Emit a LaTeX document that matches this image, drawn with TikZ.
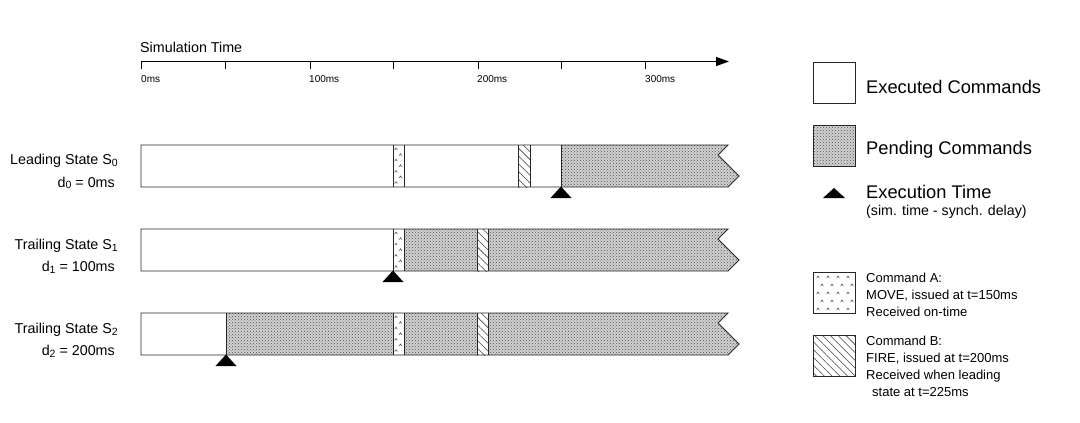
\documentclass[tikz,border=0pt]{standalone}
\usepackage{fontspec}
\setmainfont{Liberation Sans}
\usetikzlibrary{patterns,patterns.meta,arrows.meta}
\newcommand\sbs[1]{\raisebox{-0.2ex}{\fontsize{10.5}{10}\selectfont #1}}
\begin{document}
\begin{tikzpicture}[x=1pt,y=-1pt,
  barline/.style={draw=black!85, line width=0.9pt},
  pend/.style={fill=gray!35, postaction={pattern=crosshatch dots, pattern color=black!70}},
  hatchB/.style={fill=white, postaction={pattern={Lines[angle=-45,distance=5.5pt,line width=0.55pt]}, pattern color=black!75}},
  caret/.pic={\draw[line width=0.5pt, black!75] (-1.3,1) -- (0,-1) -- (1.3,1);},
  exec/.style={fill=black},
  lbl/.style={font=\fontsize{14.3}{16}\selectfont, anchor=east, inner sep=0pt},
  axl/.style={font=\fontsize{10}{11}\selectfont, anchor=west, inner sep=0pt},
  leg/.style={font=\fontsize{18.3}{20}\selectfont, anchor=west, inner sep=0pt},
  legs/.style={font=\fontsize{13}{17}\selectfont, anchor=west, inner sep=0pt, align=left},
]
\useasboundingbox (0,0) rectangle (1080,423);

% ---- axis ----
\coordinate (ax0) at (141,61.5);
\coordinate (ax1) at (729,61.5);
\draw[line width=1.3pt, -{Triangle[length=13pt,width=9pt]}] (ax0) -- (ax1);
\foreach \x in {141,225.5,310,393.5,478,561,645}
  \draw[line width=1pt] (\x,61.5) -- (\x,69);
\node[font=\fontsize{14.3}{16}\selectfont, anchor=west, inner sep=0pt] (simt) at (140,47) {Simulation Time};
\node[axl] (t0) at (141,79.5) {0ms};
\node[axl] (t100) at (309,79.5) {100ms};
\node[axl] (t200) at (477,79.5) {200ms};
\node[axl] (t300) at (645,79.5) {300ms};

% ---- row labels ----
\node[lbl] (l0) at (118,161) {Leading State S\sbs{0}};
\node[lbl] (d0) at (115,183) {d\sbs{0} = 0ms};
\node[lbl] (l1) at (118,246) {Trailing State S\sbs{1}};
\node[lbl] (d1) at (115,267.5) {d\sbs{1} = 100ms};
\node[lbl] (l2) at (118,330) {Trailing State S\sbs{2}};
\node[lbl] (d2) at (115,351.5) {d\sbs{2} = 200ms};

% ---- Row 0 ----
\fill[white] (141,145) -- (728,145) -- (718,155) -- (739,176) -- (728,187) -- (141,187) -- cycle;
\path[pend] (561,145) -- (728,145) -- (718,155) -- (739,176) -- (728,187) -- (561,187) -- cycle;
\path[hatchB] (518,145) rectangle (530,187);
\foreach \i in {0,...,6}{
  \pgfmathsetmacro\cx{mod(\i,2)==0 ? 396 : 400.5}
  \pic at (\cx,149+\i*5.6) {caret};
}
\foreach \x in {393,404,518,530,561} \draw[barline] (\x,145) -- (\x,187);
\draw[barline] (141,145) -- (728,145) -- (718,155) -- (739,176) -- (728,187) -- (141,187) -- cycle;
\fill[exec] (561,186.5) -- (550.5,198) -- (571.5,198) -- cycle;

% ---- Row 1 ----
\fill[white] (141,229) -- (728,229) -- (718,239) -- (739,260) -- (728,271) -- (141,271) -- cycle;
\path[pend] (404,229) -- (728,229) -- (718,239) -- (739,260) -- (728,271) -- (404,271) -- cycle;
\path[hatchB] (477,229) rectangle (488,271);
\foreach \i in {0,...,6}{
  \pgfmathsetmacro\cx{mod(\i,2)==0 ? 396 : 400.5}
  \pic at (\cx,233+\i*5.6) {caret};
}
\foreach \x in {393,404,477,488} \draw[barline] (\x,229) -- (\x,271);
\draw[barline] (141,229) -- (728,229) -- (718,239) -- (739,260) -- (728,271) -- (141,271) -- cycle;
\fill[exec] (393,270.5) -- (382.5,282) -- (403.5,282) -- cycle;

% ---- Row 2 ----
\fill[white] (141,313) -- (728,313) -- (718,323) -- (739,344) -- (728,355) -- (141,355) -- cycle;
\path[pend] (226,313) -- (728,313) -- (718,323) -- (739,344) -- (728,355) -- (226,355) -- cycle;
\fill[white] (393,313) rectangle (404,355);
\path[hatchB] (477,313) rectangle (488,355);
\foreach \i in {0,...,6}{
  \pgfmathsetmacro\cx{mod(\i,2)==0 ? 396 : 400.5}
  \pic at (\cx,317+\i*5.6) {caret};
}
\foreach \x in {226,393,404,477,488} \draw[barline] (\x,313) -- (\x,355);
\draw[barline] (141,313) -- (728,313) -- (718,323) -- (739,344) -- (728,355) -- (141,355) -- cycle;
\fill[exec] (226,354.5) -- (215.5,366) -- (236.5,366) -- cycle;

% ---- Legend ----
\draw[barline, fill=white] (813,62) rectangle (855,103);
\node[leg] (lexe) at (866,87) {Executed Commands};
\path[pend] (813,125) rectangle (855,166);
\draw[barline] (813,125) rectangle (855,166);
\node[leg] (lpen) at (866,150) {Pending Commands};
\fill[exec] (834,188) -- (823,198) -- (845,198) -- cycle;
\node[leg] (ltime) at (866,192) {Execution Time};
\node[font=\fontsize{14.2}{16}\selectfont, anchor=west, inner sep=0pt] (ltsub) at (866,212) {(sim. time - synch. delay)};

% Command A legend
\draw[barline, fill=white] (813,272) rectangle (855,313);
\foreach \r in {0,...,4}{
  \foreach \c in {0,...,3}{
    \pgfmathsetmacro\cx{818+\c*10+(mod(\r,2)==0 ? 0 : 4)}
    \pic at (\cx,277+\r*8) {caret};
  }
}
\draw[barline] (813,272) rectangle (855,313);
\node[legs] (lcA) at (866,295) {Command A:\\MOVE, issued at t=150ms\\Received on-time};

% Command B legend
\path[hatchB] (813,335) rectangle (855,376);
\draw[barline] (813,335) rectangle (855,376);
\node[legs] (lcB) at (866,366) {Command B:\\FIRE, issued at t=200ms\\Received when leading\\\hspace*{6pt}state at t=225ms};
\end{tikzpicture}
\end{document}
